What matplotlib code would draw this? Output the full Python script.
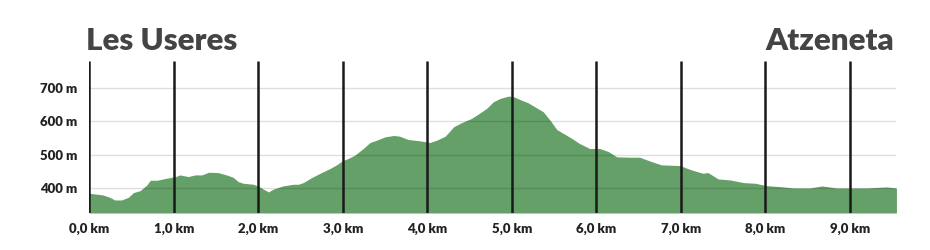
import matplotlib.pyplot as plt
import numpy as np

# distance (km) and elevation (m) read from the profile
dist = [0.00, 0.16, 0.24, 0.30, 0.38, 0.46, 0.52, 0.60, 0.68, 0.72, 0.80, 0.91,
        1.02, 1.07, 1.17, 1.25, 1.33, 1.41, 1.52, 1.62, 1.70, 1.76, 1.82, 1.94,
        2.01, 2.06, 2.12, 2.17, 2.29, 2.41, 2.47, 2.53, 2.63, 2.73, 2.83, 2.91,
        3.00, 3.06, 3.14, 3.24, 3.32, 3.40, 3.50, 3.60, 3.67, 3.77, 3.91, 4.03,
        4.11, 4.21, 4.31, 4.40, 4.52, 4.60, 4.70, 4.78, 4.86, 4.96, 5.02, 5.11,
        5.19, 5.27, 5.37, 5.45, 5.53, 5.61, 5.71, 5.80, 5.92, 6.04, 6.14, 6.24,
        6.40, 6.51, 6.65, 6.77, 6.99, 7.07, 7.15, 7.26, 7.32, 7.44, 7.58, 7.74,
        7.88, 8.01, 8.17, 8.33, 8.53, 8.67, 8.84, 9.20, 9.43, 9.55]
elev = [384, 379, 372, 364, 364, 372, 386, 392, 409, 423, 423, 429,
        434, 439, 434, 439, 439, 447, 446, 439, 432, 419, 414, 411,
        404, 396, 388, 396, 406, 411, 411, 416, 431, 444, 456, 467,
        482, 488, 498, 518, 536, 543, 553, 557, 555, 545, 541, 536,
        543, 555, 583, 595, 608, 621, 638, 658, 668, 675, 673, 663,
        655, 643, 628, 603, 575, 563, 548, 533, 518, 518, 509, 493,
        492, 492, 479, 469, 467, 459, 452, 444, 446, 427, 424, 416,
        414, 407, 404, 400, 400, 406, 400, 400, 403, 400]

km_ticks = [0, 1, 2, 3, 4, 5, 6, 7, 8, 9]
km_labels = ['0,0 km', '1,0 km', '2,0 km', '3,0 km', '4,0 km',
             '5,0 km', '6,0 km', '7,0 km', '8,0 km', '9,0 km']
m_ticks = [400, 500, 600, 700]
m_labels = ['400 m', '500 m', '600 m', '700 m']

plt.rcParams['font.family'] = ['Lato', 'DejaVu Sans']

fig = plt.figure(figsize=(9.3, 2.5), dpi=100)
ax = fig.add_axes([0.0962, 0.148, 0.8677, 0.608])

ymin, ymax = 325, 780
ax.fill_between(dist, elev, ymin, color='#64a067', lw=0, zorder=1)

for m in m_ticks:
    ax.axhline(m, color='black', alpha=0.13, lw=1, zorder=2)
ax.vlines(km_ticks, ymin, ymax, color='#1a1a1a', lw=1.8, zorder=3)

ax.set_xlim(0, 9.55)
ax.set_ylim(ymin, ymax)
for s in ax.spines.values():
    s.set_visible(False)

ax.set_xticks(km_ticks)
ax.set_xticklabels(km_labels, fontsize=9.5, fontweight='heavy', color='#222222')
ax.set_yticks(m_ticks)
ax.set_yticklabels(m_labels, fontsize=9.5, fontweight='heavy', color='#222222')
ax.tick_params(length=0, pad=7)
ax.tick_params(axis='y', pad=9)

fig.text(0.093, 0.80, 'Les Useres', fontsize=22.5, fontweight='heavy',
         color='#444444', ha='left', va='baseline')
fig.text(0.961, 0.80, 'Atzeneta', fontsize=22.5, fontweight='heavy',
         color='#444444', ha='right', va='baseline')

fig.savefig('out.png', dpi=100)
